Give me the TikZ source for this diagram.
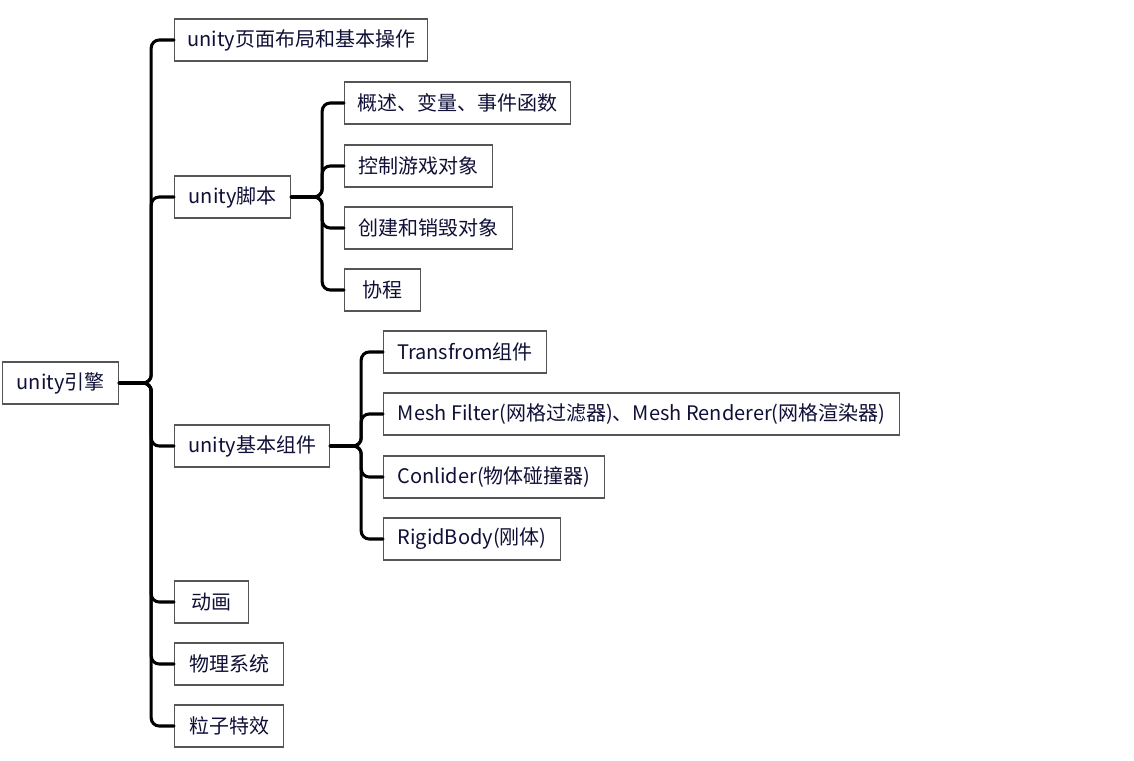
\documentclass[tikz,border=0pt]{standalone}
\usepackage{fontspec}
\setmainfont{Noto Sans CJK SC}
\definecolor{txt}{RGB}{15,15,55}
\definecolor{edge}{RGB}{85,85,85}
\tikzset{
  box/.style={draw=edge, line width=0.9pt, fill=white, anchor=west, minimum height=31.5pt,
    inner xsep=0pt, inner ysep=0pt, text=txt, font=\fontsize{15pt}{17pt}\selectfont,
    minimum width={#1*0.75pt}},
  conn/.style={line width=2.3pt, rounded corners=6pt, line cap=round},
}
\begin{document}
\begin{tikzpicture}[x=0.75pt,y=-0.75pt]
\useasboundingbox (0,0) rectangle (1134,760);
\node[box=116] (root) at (2,383) {unity引擎};
\node[box=253] (a1) at (174,40) {unity页面布局和基本操作};
\node[box=116] (a2) at (174,197) {unity脚本};
\node[box=155] (a3) at (174,446) {unity基本组件};
\node[box=74]  (a4) at (174,602) {动画};
\node[box=109] (a5) at (174,664) {物理系统};
\node[box=109] (a6) at (174,726) {粒子特效};
\node[box=226] (b1) at (344,103) {概述、变量、事件函数};
\node[box=148] (b2) at (344,166) {控制游戏对象};
\node[box=168] (b3) at (344,228) {创建和销毁对象};
\node[box=76]  (b4) at (344,290) {协程};
\node[box=163] (c1) at (383,352) {Transfrom组件};
\node[box=516] (c2) at (383,414) {Mesh Filter(网格过滤器)、Mesh Renderer(网格渲染器)};
\node[box=221] (c3) at (383,477) {Conlider(物体碰撞器)};
\node[box=177] (c4) at (383,539) {RigidBody(刚体)};
\foreach \c in {a1,a2,a3,a4,a5,a6}
  \draw[conn] (root.east) -- ++(32,0) |- (\c.west);
\foreach \c in {b1,b2,b3,b4}
  \draw[conn] (a2.east) -- ++(31,0) |- (\c.west);
\foreach \c in {c1,c2,c3,c4}
  \draw[conn] (a3.east) -- ++(31,0) |- (\c.west);
\end{tikzpicture}
\end{document}
